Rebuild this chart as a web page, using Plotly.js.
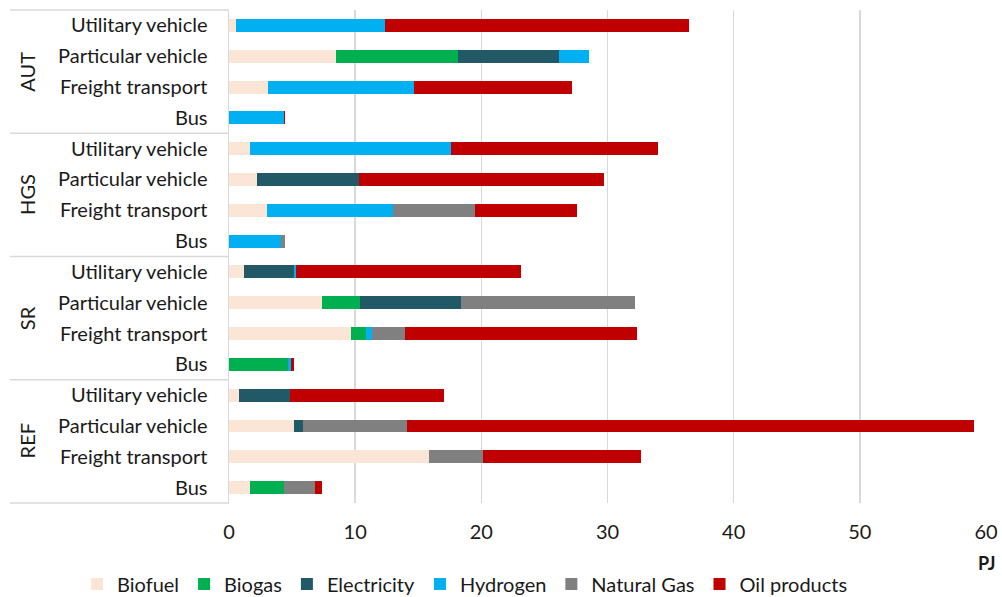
<!DOCTYPE html>
<html>
<head>
<meta charset="utf-8">
<script src="https://cdn.plot.ly/plotly-3.0.1.min.js"></script>
<style>html,body{margin:0;padding:0;background:#fff;}#chart{width:1002px;height:597px;}</style>
</head>
<body>
<div id="chart"></div>
<script>
// Display order: top to bottom
const scenarios = ['AUT', 'HGS', 'SR', 'REF'];
const modes = ['Utilitary vehicle', 'Particular vehicle', 'Freight transport', 'Bus'];

// Values in PJ, ordered AUT(U,P,F,B), HGS(U,P,F,B), SR(U,P,F,B), REF(U,P,F,B)
const biofuel     = [0.55, 8.48, 3.12, 0,    1.64, 2.22, 2.99, 0,    1.19, 7.36, 9.66, 0,    0.77, 5.13, 15.87, 1.70];
const biogas      = [0,    9.67, 0,    0,    0,    0,    0,    0,    0,    3.01, 1.21, 4.68, 0,    0,    0,     2.64];
const electricity = [0,    8.00, 0,    0,    0,    8.10, 0,    0,    4.00, 8.05, 0,    0,    4.05, 0.74, 0,     0];
const hydrogen    = [11.81,2.40, 11.56,4.32, 15.93,0,    10.03,4.13, 0.10, 0,    0.48, 0.24, 0,    0,    0,     0];
const naturalGas  = [0,    0,    0,    0,    0,    0,    6.46, 0.31, 0,    13.73,2.57, 0,    0,    8.21, 4.28,  2.46];
const oilProducts = [24.09,0,    12.50,0.10, 16.43,19.38,8.10, 0,    17.86,0,    18.38,0.27, 12.25,44.98,12.52, 0.58];

const fuelNames  = ['Biofuel', 'Biogas', 'Electricity', 'Hydrogen', 'Natural Gas', 'Oil products'];
const fuelValues = [biofuel, biogas, electricity, hydrogen, naturalGas, oilProducts];
const fuelColors = ['#FBE5D6', '#00B050', '#215967', '#00B0F0', '#808080', '#C00000'];

const keys = [], labels = [];
scenarios.forEach(s => modes.forEach(m => { keys.push(s + '|' + m); labels.push(m); }));

const FONT = 'Lato, "Open Sans", sans-serif';
const FS = 20;

const traces = fuelNames.map((name, i) => ({
  type: 'bar',
  orientation: 'h',
  name: name,
  y: keys,
  x: fuelValues[i],
  marker: {color: fuelColors[i], line: {width: 0}},
  hoverinfo: 'x+name'
}));

// Plot-area geometry (pixels) used for label placement
const L = 229, R = 986, T = 10, B = 503;
const W = R - L, H = B - T;
const px = x => (x - L) / W;
const py = y => (B - y) / H;

const annotations = scenarios.map((s, g) => ({
  text: s, xref: 'paper', yref: 'paper',
  x: px(27), y: 1 - (g * 4 + 2) / 16,
  textangle: -90, showarrow: false,
  xanchor: 'center', yanchor: 'middle',
  font: {family: FONT, size: FS, color: '#1a1a1a'}
}));
annotations.push({
  text: '<b>PJ</b>', xref: 'paper', yref: 'paper',
  x: 1, y: py(563), showarrow: false, xanchor: 'center', yanchor: 'middle',
  font: {family: FONT, size: 18, color: '#1a1a1a'}
});

const shapes = [0, 1, 2, 3, 4].map(k => ({
  type: 'line', xref: 'paper', yref: 'paper',
  x0: px(10), x1: 0, y0: 1 - k / 4, y1: 1 - k / 4,
  line: {color: '#d9d9d9', width: 1.5}
}));

const layout = {
  width: 1002, height: 597,
  margin: {l: L, r: 1002 - R, t: T, b: 597 - B, autoexpand: false},
  paper_bgcolor: '#ffffff', plot_bgcolor: '#ffffff',
  barmode: 'stack', bargap: 0.58,
  font: {family: FONT, size: FS, color: '#1a1a1a'},
  showlegend: true,
  legend: {
    orientation: 'h', xref: 'paper', yref: 'paper',
    x: px(77), xanchor: 'left', y: py(584), yanchor: 'middle',
    font: {family: FONT, size: FS, color: '#1a1a1a'},
    traceorder: 'normal', itemwidth: 30
  },
  xaxis: {
    range: [0, 60], dtick: 10, tick0: 0,
    showgrid: true, gridcolor: '#d9d9d9', gridwidth: 1.5,
    zeroline: false, showline: false, automargin: false,
    ticks: 'outside', ticklen: 11, tickcolor: 'rgba(0,0,0,0)',
    tickfont: {family: FONT, size: FS, color: '#1a1a1a'},
    fixedrange: true
  },
  yaxis: {
    type: 'category', autorange: 'reversed',
    categoryorder: 'array', categoryarray: keys,
    tickmode: 'array', tickvals: keys, ticktext: labels,
    showline: true, linecolor: '#d9d9d9', linewidth: 1.5,
    showgrid: false, automargin: false,
    ticks: 'outside', ticklen: 16, tickcolor: 'rgba(0,0,0,0)',
    tickfont: {family: FONT, size: FS, color: '#1a1a1a'},
    fixedrange: true
  },
  annotations: annotations,
  shapes: shapes
};

Plotly.newPlot('chart', traces, layout, {displayModeBar: false, staticPlot: true});
</script>
</body>
</html>
